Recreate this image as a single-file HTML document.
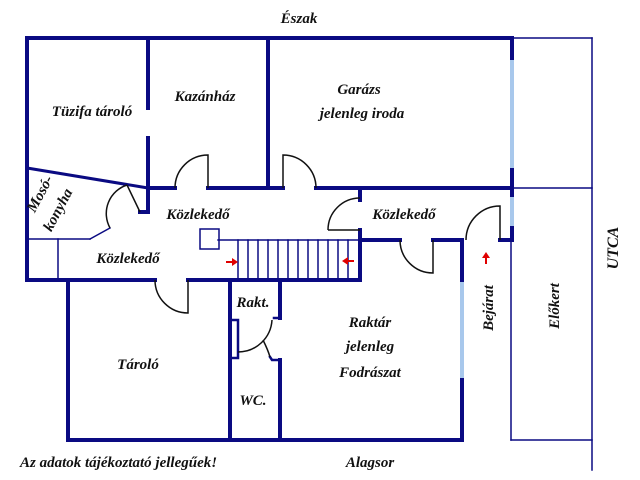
<!DOCTYPE html>
<html><head><meta charset="utf-8"><style>
html,body{margin:0;padding:0;background:#fff;}
svg{display:block}
text{font-family:"Liberation Serif",serif;font-weight:bold;font-style:italic;fill:#111;}
</style></head><body>
<svg width="640" height="480" viewBox="0 0 640 480" xmlns="http://www.w3.org/2000/svg">
<g stroke="#0a0a82" fill="none" stroke-linecap="square">
<g stroke-width="1.5">
<line x1="512" y1="38" x2="592" y2="38"/>
<line x1="592" y1="38" x2="592" y2="470"/>
<line x1="512" y1="188" x2="592" y2="188"/>
<line x1="511" y1="240" x2="511" y2="440"/>
<line x1="511" y1="440" x2="592" y2="440"/>
<line x1="27" y1="239" x2="90" y2="239"/>
<line x1="90" y1="239" x2="110" y2="228"/>
<line x1="58" y1="239" x2="58" y2="280"/>
<line x1="218" y1="240" x2="360" y2="240"/>
<rect x="200" y="229" width="19" height="20"/>
<line x1="238" y1="240" x2="238" y2="280"/>
<line x1="248" y1="240" x2="248" y2="280"/>
<line x1="258" y1="240" x2="258" y2="280"/>
<line x1="268" y1="240" x2="268" y2="280"/>
<line x1="278" y1="240" x2="278" y2="280"/>
<line x1="288" y1="240" x2="288" y2="280"/>
<line x1="298" y1="240" x2="298" y2="280"/>
<line x1="308" y1="240" x2="308" y2="280"/>
<line x1="318" y1="240" x2="318" y2="280"/>
<line x1="328" y1="240" x2="328" y2="280"/>
<line x1="338" y1="240" x2="338" y2="280"/>
<line x1="348" y1="240" x2="348" y2="280"/>
</g>
<g stroke-width="4">
<line x1="27" y1="38" x2="512" y2="38"/>
<line x1="27" y1="38" x2="27" y2="280"/>
<line x1="27" y1="280" x2="68" y2="280"/>
<line x1="68" y1="280" x2="68" y2="440"/>
<line x1="68" y1="440" x2="462" y2="440"/>
<line x1="148" y1="38" x2="148" y2="108"/>
<line x1="148" y1="138" x2="148" y2="212"/>
<line x1="140" y1="212" x2="148" y2="212"/>
<line x1="268" y1="38" x2="268" y2="188"/>
<line x1="148" y1="188" x2="175" y2="188"/>
<line x1="208" y1="188" x2="283" y2="188"/>
<line x1="316" y1="188" x2="512" y2="188"/>
<line x1="360" y1="188" x2="360" y2="200"/>
<line x1="68" y1="280" x2="155" y2="280"/>
<line x1="188" y1="280" x2="360" y2="280"/>
<line x1="360" y1="230" x2="360" y2="280"/>
<line x1="360" y1="240" x2="400" y2="240"/>
<line x1="433" y1="240" x2="462" y2="240"/>
<line x1="462" y1="240" x2="462" y2="280"/>
<line x1="462" y1="380" x2="462" y2="440"/>
<line x1="230" y1="280" x2="230" y2="440"/>
<line x1="280" y1="280" x2="280" y2="318"/>
<line x1="280" y1="360" x2="280" y2="440"/>
<line x1="512" y1="38" x2="512" y2="58"/>
<line x1="512" y1="170" x2="512" y2="195"/>
<line x1="512" y1="228" x2="512" y2="240"/>
<line x1="500" y1="240" x2="512" y2="240"/>
</g>
<line x1="27" y1="168" x2="148" y2="188" stroke-width="3"/>
<g stroke-width="2.5">
<polyline points="230,320 238,320 238,358 230,358"/>
<line x1="274" y1="318" x2="280" y2="318"/>
<polyline points="270,357 272,360 280,360"/>
</g>
</g>
<g stroke="#a8c8ec" stroke-width="4">
<line x1="512" y1="60" x2="512" y2="168"/>
<line x1="512" y1="197" x2="512" y2="226"/>
<line x1="462" y1="282" x2="462" y2="378"/>
</g>
<g stroke="#111" stroke-width="1.5" fill="none">
<path d="M175,188 A33,33 0 0 1 208,155 L208,188"/>
<path d="M283,188 L283,155 A33,33 0 0 1 316,188"/>
<path d="M328,230 A32,32 0 0 1 360,198 M328,230 L360,230"/>
<path d="M400,240 A33,33 0 0 0 433,273 L433,240"/>
<path d="M466,240 A34,34 0 0 1 500,206 L500,240"/>
<path d="M155,280 A33,33 0 0 0 188,313 L188,280"/>
<path d="M127,185 L140,212 M127,185 A30,30 0 0 0 110,228"/>
<path d="M238,352 A34,34 0 0 0 272,320 M263,340 Q268,350 270,357"/>
</g>
<g fill="#e00000" stroke="#e00000" stroke-width="2">
<line x1="226" y1="262" x2="234" y2="262"/><polygon points="238,262 232,258 232,266" stroke="none"/>
<line x1="346" y1="261" x2="354" y2="261"/><polygon points="342,261 348,257 348,265" stroke="none"/>
<line x1="486" y1="256" x2="486" y2="264"/><polygon points="486,252 482,258 490,258" stroke="none"/>
</g>
<g font-size="15">
<text x="299" y="23" text-anchor="middle">Észak</text>
<text x="92" y="116" text-anchor="middle">Tüzifa tároló</text>
<text x="205" y="101" text-anchor="middle">Kazánház</text>
<text x="359" y="94" text-anchor="middle">Garázs</text>
<text x="362" y="118" text-anchor="middle">jelenleg iroda</text>
<text x="198" y="219" text-anchor="middle">Közlekedő</text>
<text x="404" y="219" text-anchor="middle">Közlekedő</text>
<text x="128" y="263" text-anchor="middle">Közlekedő</text>
<text x="370" y="327" text-anchor="middle">Raktár</text>
<text x="370" y="351" text-anchor="middle">jelenleg</text>
<text x="370" y="377" text-anchor="middle">Fodrászat</text>
<text x="253" y="307" text-anchor="middle">Rakt.</text>
<text x="138" y="369" text-anchor="middle">Tároló</text>
<text x="253" y="405" text-anchor="middle">WC.</text>
<text x="20" y="467">Az adatok tájékoztató jellegűek!</text>
<text x="370" y="467" text-anchor="middle">Alagsor</text>
<text transform="translate(493,308) rotate(-90)" text-anchor="middle">Bejárat</text>
<text transform="translate(559,306) rotate(-90)" text-anchor="middle">Előkert</text>
<text transform="translate(618,248) rotate(-90)" text-anchor="middle" font-size="16">UTCA</text>
<text transform="translate(44,196) rotate(-62)" text-anchor="middle">Mosó-</text>
<text transform="translate(62,212) rotate(-62)" text-anchor="middle">konyha</text>
</g>
</svg>
</body></html>
